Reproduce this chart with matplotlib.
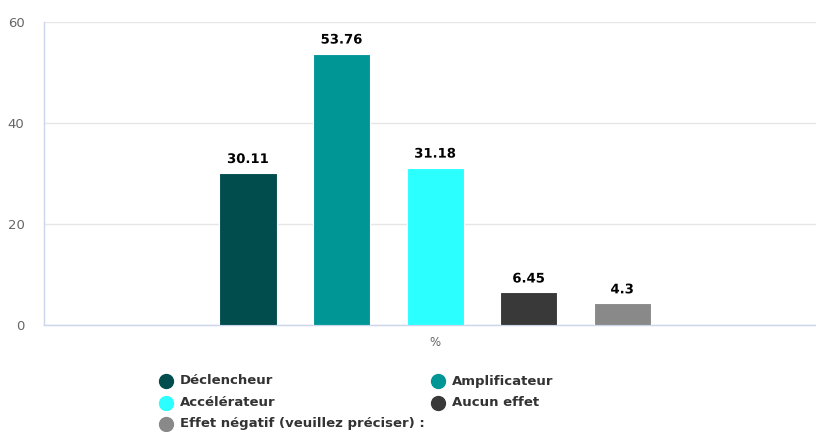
import matplotlib
matplotlib.use("Agg")
import matplotlib.pyplot as plt
import matplotlib.patheffects as pe
from matplotlib.lines import Line2D

series = ["Déclencheur", "Amplificateur", "Accélérateur", "Aucun effet",
          "Effet négatif (veuillez préciser) :"]
values = [30.11, 53.76, 31.18, 6.45, 4.3]
colors = ["#014d4e", "#009696", "#2bffff", "#393939", "#898989"]
category = "%"
yticks = [0, 20, 40, 60]

W, H = 816, 432
fig = plt.figure(figsize=(W / 100, H / 100), dpi=100)
ax = fig.add_axes([44 / W, 107 / H, 772 / W, 303 / H])

n = len(series)
offsets = [i - (n - 1) / 2 for i in range(n)]
bar_w = 0.61
for off, v, c in zip(offsets, values, colors):
    ax.bar(off, v, width=bar_w, color=c, edgecolor="white", linewidth=0.8, zorder=3)
    ax.annotate(f"{v:g}", (off, v), xytext=(0, 5), textcoords="offset points",
                ha="center", va="bottom", fontsize=9.5, fontweight="bold",
                color="#000000", zorder=4,
                path_effects=[pe.withStroke(linewidth=2, foreground="white")])

ax.set_xlim(-4.18, 4.07)
ax.set_ylim(0, 60)
ax.set_yticks(yticks)
ax.set_yticklabels([str(t) for t in yticks], color="#666666", fontsize=9.5)
ax.tick_params(axis="y", length=0, pad=14)
ax.set_xticks([0])
ax.set_xticklabels([category], color="#666666", fontsize=8.5)
ax.tick_params(axis="x", length=0, pad=8)
ax.grid(axis="y", color="#e6e6e6", linewidth=1, zorder=0)
for s in ["top", "right"]:
    ax.spines[s].set_visible(False)
ax.spines["left"].set_color("#ccd6eb")
ax.spines["bottom"].set_color("#ccd6eb")
ax.spines["left"].set_linewidth(1)
ax.spines["bottom"].set_linewidth(1)

# legend laid out in two columns, row by row
col_x = [166, 438]
row_y = [381, 403, 424]
for i, (name, c) in enumerate(zip(series, colors)):
    r, col = divmod(i, 2)
    x = col_x[col] / W
    y = 1 - row_y[r] / H
    fig.add_artist(Line2D([x], [y], marker="o", markersize=10, color=c,
                          linestyle="none", transform=fig.transFigure))
    fig.text(x + 14 / W, y, name, ha="left", va="center", fontsize=9.5,
             fontweight="semibold", color="#333333")

fig.savefig("out.png", dpi=100)
